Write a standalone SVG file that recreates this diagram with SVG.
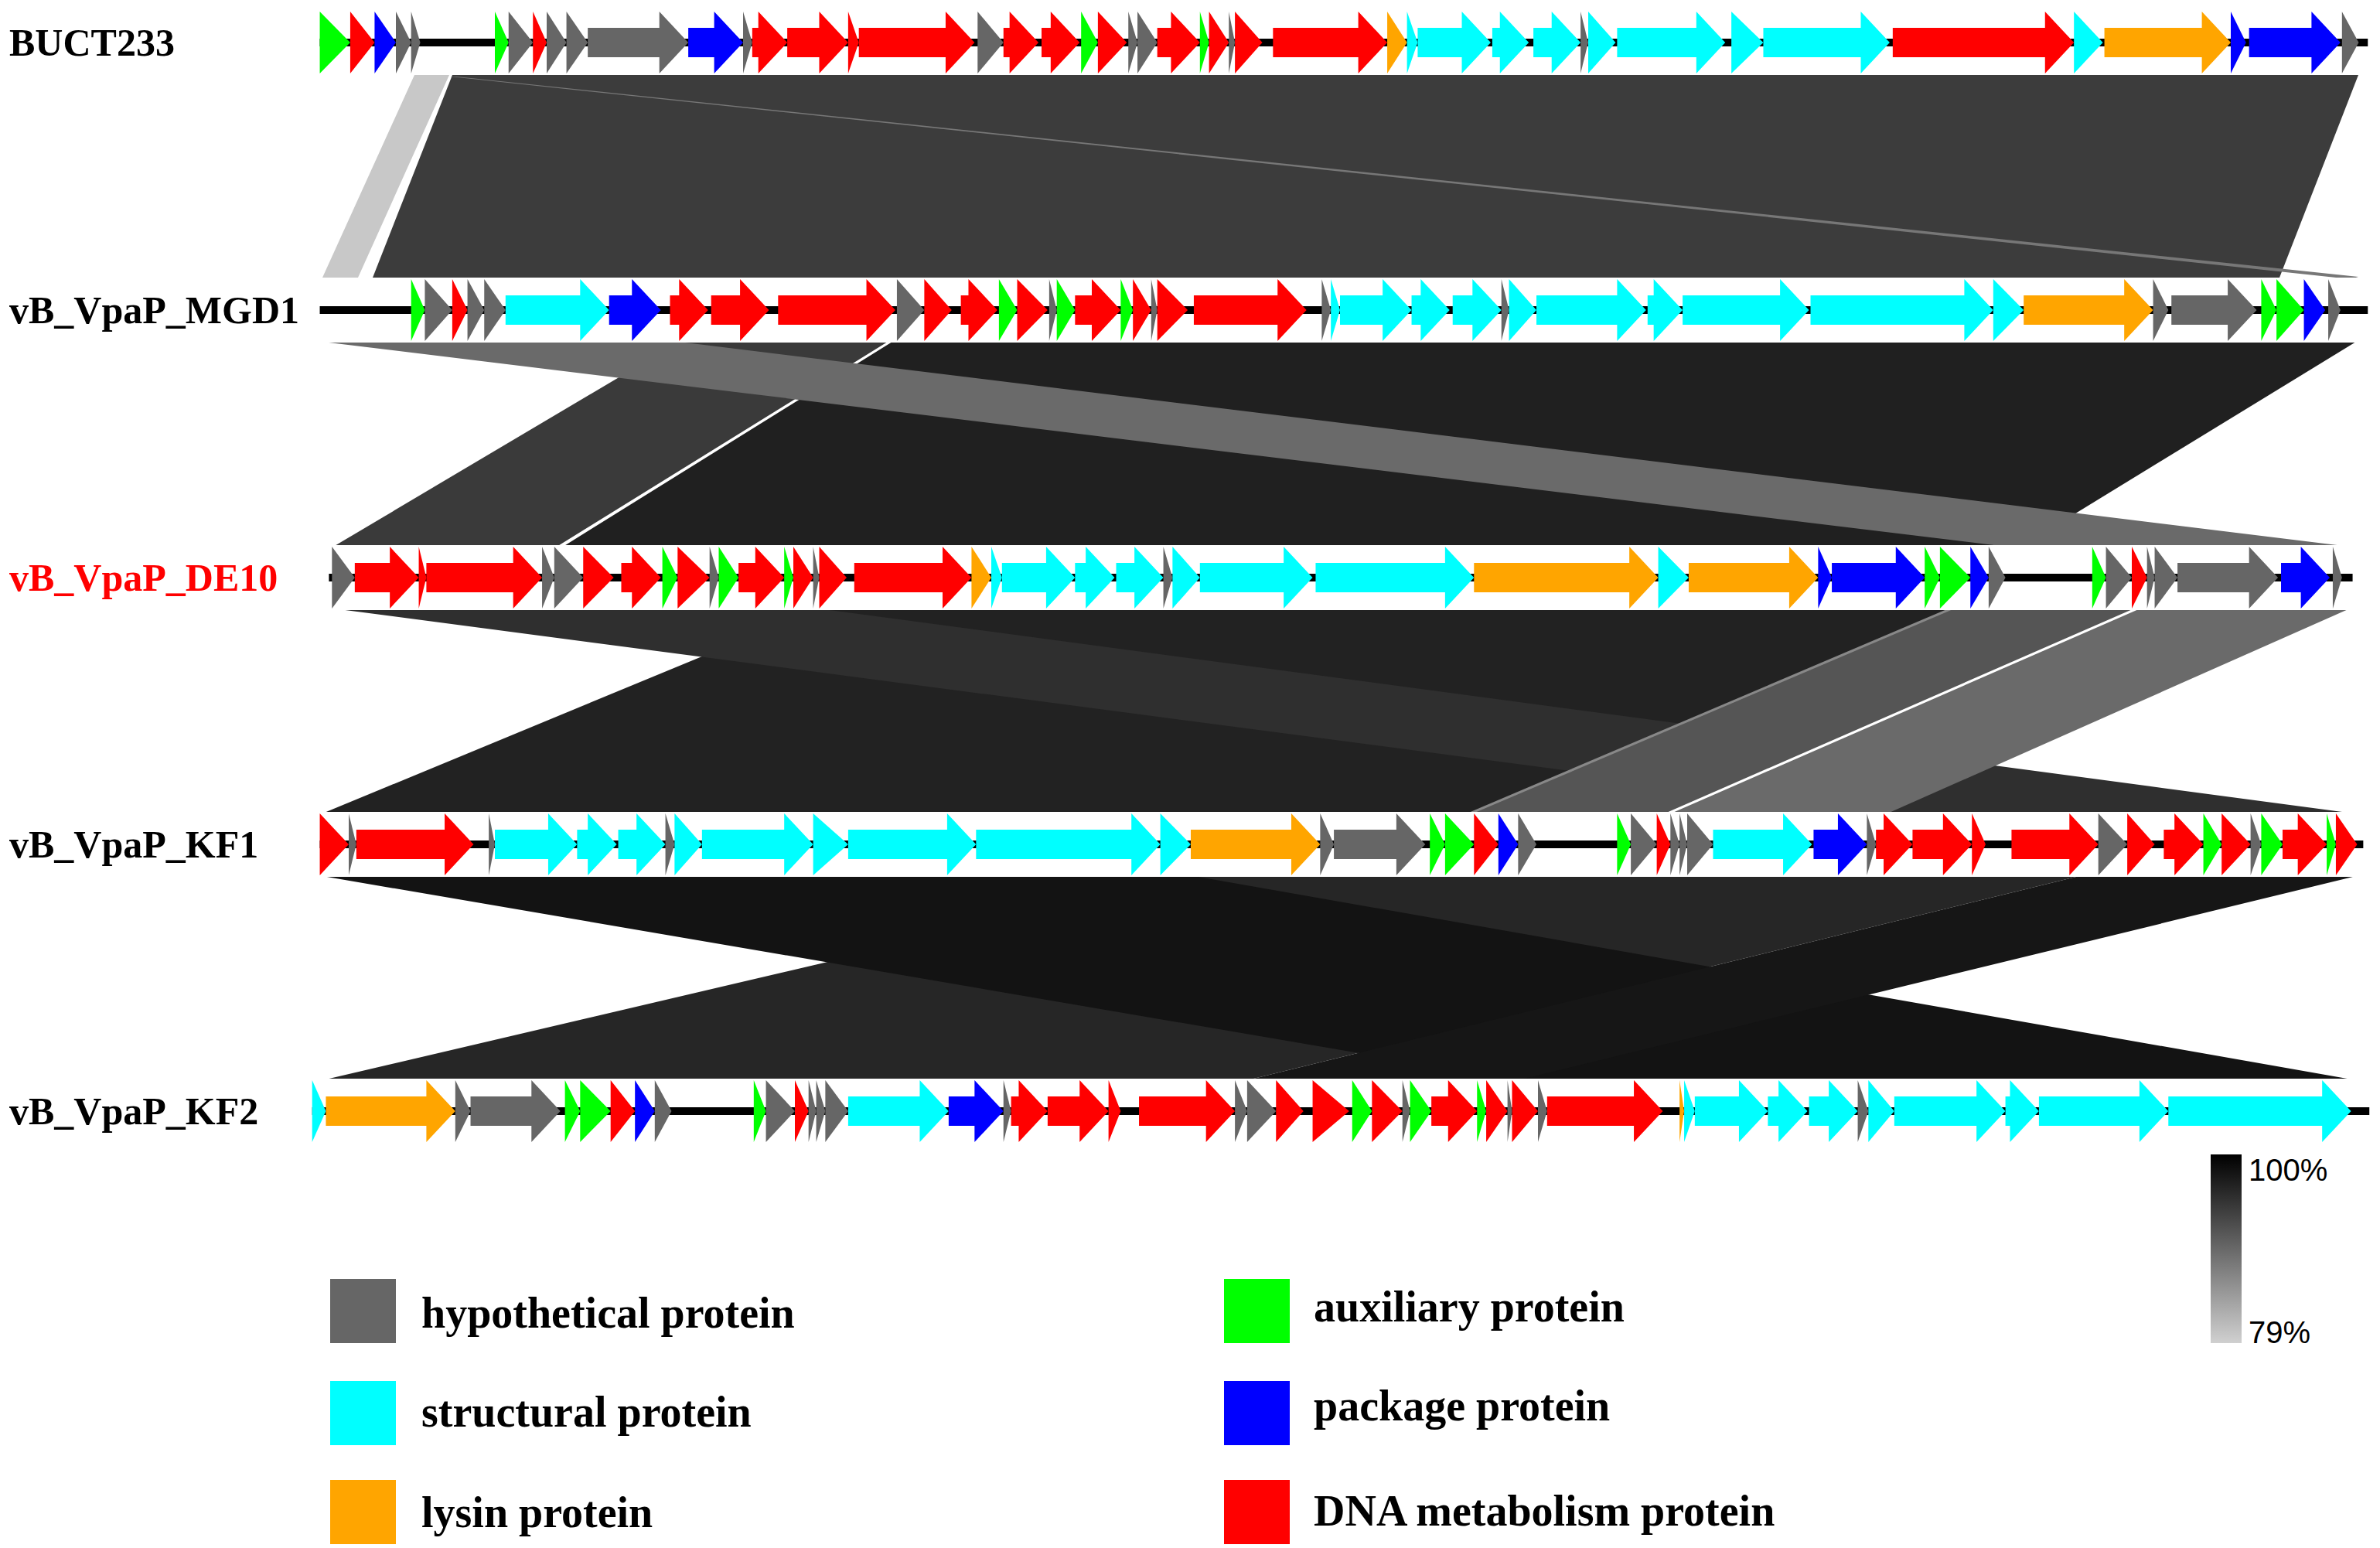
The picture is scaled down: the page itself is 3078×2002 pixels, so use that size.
<svg xmlns="http://www.w3.org/2000/svg" width="3078" height="2002" viewBox="0 0 3078 2002">
<defs>
<style>
.g{fill:#666666}.c{fill:#00ffff}.r{fill:#ff0000}.o{fill:#ffa500}.b{fill:#0000ff}.G{fill:#00ff00}
.lbl{font-family:"Liberation Serif",serif;font-weight:bold;font-size:50px;fill:#000}
.leg{font-family:"Liberation Serif",serif;font-weight:bold;font-size:56px;fill:#000}
.pct{font-family:"Liberation Sans",Arial,sans-serif;font-size:40px;fill:#000}
</style>
<linearGradient id="bar" x1="0" y1="0" x2="0" y2="1"><stop offset="0" stop-color="#000"/><stop offset="1" stop-color="#d0d0d0"/></linearGradient>
</defs>
<rect width="3078" height="2002" fill="#fff"/>
<g id="connectors">
<polygon points="536,97 581,97 463,359 417,359" fill="#c8c8c8"/>
<polygon points="585,97 3050,97 2948,359 482,359" fill="#3c3c3c"/>
<polygon points="582,99 590,99 3050,358 3040,361" fill="#777"/>
<polygon points="878,442 1152,442 725,707 431,707" fill="#3a3a3a"/>
<polygon points="1152,442 3047,442 2614,707 725,707" fill="#202020"/>
<polygon points="1148,442 1154,442 728,707 720,707" fill="#fff"/>
<polygon points="417,442 878,442 3039,707 2595,707" fill="#6a6a6a"/>
<polygon points="1058,787 2526,787 1903,1052 417,1052" fill="#222"/>
<polygon points="431,787 1058,787 3044,1052 2450,1052" fill="#2f2f2f"/>
<polygon points="2526,787 2766,787 2159,1052 1903,1052" fill="#555"/>
<polygon points="2766,787 3039,787 2441,1052 2159,1052" fill="#6a6a6a"/>
<polygon points="2760,787 2768,787 2161,1052 2153,1052" fill="#fff"/>
<polygon points="2520,787 2528,787 1905,1052 1897,1052" fill="#888"/>
<polygon points="1544,1133 2689,1133 1613,1397 417,1397" fill="#262626"/>
<polygon points="417,1133 1544,1133 3047,1397 1963,1397" fill="#131313"/>
<polygon points="2689,1133 3047,1133 1963,1397 1613,1397" fill="#161616"/>
</g>
<g id="BUCT233">
<rect x="404" y="13" width="2664" height="84" fill="#fff"/>
<text class="lbl" x="12" y="72">BUCT233</text>
<g transform="translate(0,55) scale(1.9693 1)">
<rect x="210" y="-5" width="1345" height="10" fill="#000"/>
<polygon class="G" points="210,-40 230,0 210,40"/><polygon class="r" points="230,-40 246,0 230,40"/><polygon class="b" points="246,-40 260,0 246,40"/><polygon class="g" points="260,-40 270,0 260,40"/><polygon class="g" points="270,-40 276,0 270,40"/>
<polygon class="G" points="325,-40 334,0 325,40"/><polygon class="g" points="334,-40 350,0 334,40"/><polygon class="r" points="350,-40 359,0 350,40"/><polygon class="g" points="359,-40 372,0 359,40"/><polygon class="g" points="372,-40 386,0 372,40"/>
<polygon class="g" points="386,-19 433,-19 433,-40 452,0 433,40 433,19 386,19"/>
<polygon class="b" points="452,-19 469,-19 469,-40 488,0 469,40 469,19 452,19"/>
<polygon class="g" points="488,-40 494,0 488,40"/>
<polygon class="r" points="494,-19 498,-19 498,-40 517,0 498,40 498,19 494,19"/>
<polygon class="r" points="517,-19 538,-19 538,-40 557,0 538,40 538,19 517,19"/>
<polygon class="r" points="557,-40 564,0 557,40"/>
<polygon class="r" points="564,-19 621,-19 621,-40 640,0 621,40 621,19 564,19"/>
<polygon class="g" points="642,-40 659,0 642,40"/>
<polygon class="r" points="659,-19 663,-19 663,-40 682,0 663,40 663,19 659,19"/>
<polygon class="r" points="684,-19 690,-19 690,-40 709,0 690,40 690,19 684,19"/>
<polygon class="G" points="710,-40 721,0 710,40"/><polygon class="r" points="721,-40 740,0 721,40"/><polygon class="g" points="741,-40 747,0 741,40"/><polygon class="g" points="747,-40 760,0 747,40"/>
<polygon class="r" points="760,-19 769,-19 769,-40 788,0 769,40 769,19 760,19"/>
<polygon class="G" points="788,-40 794,0 788,40"/><polygon class="r" points="794,-40 807,0 794,40"/><polygon class="g" points="807,-40 811,0 807,40"/><polygon class="r" points="811,-40 829,0 811,40"/>
<polygon class="r" points="836,-19 892,-19 892,-40 911,0 892,40 892,19 836,19"/>
<polygon class="o" points="911,-40 924,0 911,40"/><polygon class="c" points="924,-40 931,0 924,40"/>
<polygon class="c" points="931,-19 960,-19 960,-40 979,0 960,40 960,19 931,19"/>
<polygon class="c" points="980,-19 985,-19 985,-40 1004,0 985,40 985,19 980,19"/>
<polygon class="c" points="1007,-19 1019,-19 1019,-40 1038,0 1019,40 1019,19 1007,19"/>
<polygon class="g" points="1038,-40 1043,0 1038,40"/><polygon class="c" points="1043,-40 1061,0 1043,40"/>
<polygon class="c" points="1062,-19 1114,-19 1114,-40 1133,0 1114,40 1114,19 1062,19"/>
<polygon class="c" points="1137,-40 1158,0 1137,40"/>
<polygon class="c" points="1158,-19 1222,-19 1222,-40 1241,0 1222,40 1222,19 1158,19"/>
<polygon class="r" points="1243,-19 1343,-19 1343,-40 1362,0 1343,40 1343,19 1243,19"/>
<polygon class="c" points="1362,-40 1381,0 1362,40"/>
<polygon class="o" points="1382,-19 1446,-19 1446,-40 1465,0 1446,40 1446,19 1382,19"/>
<polygon class="b" points="1465,-40 1475,0 1465,40"/>
<polygon class="b" points="1477,-19 1518,-19 1518,-40 1537,0 1518,40 1518,19 1477,19"/>
<polygon class="g" points="1538,-40 1549,0 1538,40"/>
</g>
</g>
<g id="MGD1">
<rect x="404" y="359" width="2664" height="84" fill="#fff"/>
<text class="lbl" x="12" y="418">vB_VpaP_MGD1</text>
<g transform="translate(0,401) scale(1.9693 1)">
<rect x="210" y="-5" width="1345" height="10" fill="#000"/>
<polygon class="G" points="270,-40 279,0 270,40"/><polygon class="g" points="279,-40 297,0 279,40"/><polygon class="r" points="297,-40 307,0 297,40"/><polygon class="g" points="307,-40 318,0 307,40"/><polygon class="g" points="318,-40 332,0 318,40"/>
<polygon class="c" points="332,-19 381,-19 381,-40 400,0 381,40 381,19 332,19"/>
<polygon class="b" points="400,-19 415,-19 415,-40 434,0 415,40 415,19 400,19"/>
<polygon class="r" points="440,-19 446,-19 446,-40 465,0 446,40 446,19 440,19"/>
<polygon class="r" points="467,-19 486,-19 486,-40 505,0 486,40 486,19 467,19"/>
<polygon class="r" points="511,-19 569,-19 569,-40 588,0 569,40 569,19 511,19"/>
<polygon class="g" points="589,-40 607,0 589,40"/><polygon class="r" points="607,-40 625,0 607,40"/>
<polygon class="r" points="631,-19 636,-19 636,-40 655,0 636,40 636,19 631,19"/>
<polygon class="G" points="656,-40 668,0 656,40"/><polygon class="r" points="668,-40 688,0 668,40"/><polygon class="g" points="689,-40 694,0 689,40"/><polygon class="G" points="694,-40 706,0 694,40"/>
<polygon class="r" points="706,-19 717,-19 717,-40 736,0 717,40 717,19 706,19"/>
<polygon class="G" points="736,-40 744,0 736,40"/><polygon class="r" points="744,-40 756,0 744,40"/><polygon class="g" points="756,-40 760,0 756,40"/><polygon class="r" points="760,-40 780,0 760,40"/>
<polygon class="r" points="784,-19 839,-19 839,-40 858,0 839,40 839,19 784,19"/>
<polygon class="g" points="868,-40 874,0 868,40"/><polygon class="c" points="874,-40 880,0 874,40"/>
<polygon class="c" points="880,-19 908,-19 908,-40 927,0 908,40 908,19 880,19"/>
<polygon class="c" points="927,-19 933,-19 933,-40 952,0 933,40 933,19 927,19"/>
<polygon class="c" points="954,-19 967,-19 967,-40 986,0 967,40 967,19 954,19"/>
<polygon class="g" points="986,-40 991,0 986,40"/><polygon class="c" points="991,-40 1009,0 991,40"/>
<polygon class="c" points="1009,-19 1062,-19 1062,-40 1081,0 1062,40 1062,19 1009,19"/>
<polygon class="c" points="1082,-19 1086,-19 1086,-40 1105,0 1086,40 1086,19 1082,19"/>
<polygon class="c" points="1105,-19 1169,-19 1169,-40 1188,0 1169,40 1169,19 1105,19"/>
<polygon class="c" points="1189,-19 1290,-19 1290,-40 1309,0 1290,40 1290,19 1189,19"/>
<polygon class="c" points="1309,-40 1329,0 1309,40"/>
<polygon class="o" points="1329,-19 1395,-19 1395,-40 1414,0 1395,40 1395,19 1329,19"/>
<polygon class="g" points="1414,-40 1424,0 1414,40"/>
<polygon class="g" points="1426,-19 1463,-19 1463,-40 1482,0 1463,40 1463,19 1426,19"/>
<polygon class="G" points="1485,-40 1495,0 1485,40"/><polygon class="G" points="1495,-40 1513,0 1495,40"/><polygon class="b" points="1513,-40 1527,0 1513,40"/><polygon class="g" points="1529,-40 1537,0 1529,40"/>
</g>
</g>
<g id="DE10">
<rect x="404" y="705" width="2664" height="84" fill="#fff"/>
<text class="lbl" x="12" y="764" fill="#ff0000" style="fill:#ff0000">vB_VpaP_DE10</text>
<g transform="translate(0,747) scale(1.9693 1)">
<rect x="216" y="-5" width="1329" height="10" fill="#000"/>
<polygon class="g" points="218,-40 233,0 218,40"/>
<polygon class="r" points="233,-19 256,-19 256,-40 275,0 256,40 256,19 233,19"/>
<polygon class="r" points="275,-40 280,0 275,40"/>
<polygon class="r" points="280,-19 337,-19 337,-40 356,0 337,40 337,19 280,19"/>
<polygon class="g" points="356,-40 364,0 356,40"/><polygon class="g" points="364,-40 383,0 364,40"/><polygon class="r" points="383,-40 403,0 383,40"/>
<polygon class="r" points="408,-19 415,-19 415,-40 434,0 415,40 415,19 408,19"/>
<polygon class="G" points="435,-40 445,0 435,40"/><polygon class="r" points="445,-40 466,0 445,40"/><polygon class="g" points="466,-40 472,0 466,40"/><polygon class="G" points="472,-40 485,0 472,40"/>
<polygon class="r" points="485,-19 496,-19 496,-40 515,0 496,40 496,19 485,19"/>
<polygon class="G" points="515,-40 521,0 515,40"/><polygon class="r" points="521,-40 534,0 521,40"/><polygon class="g" points="534,-40 538,0 534,40"/><polygon class="r" points="538,-40 556,0 538,40"/>
<polygon class="r" points="561,-19 619,-19 619,-40 638,0 619,40 619,19 561,19"/>
<polygon class="o" points="638,-40 651,0 638,40"/><polygon class="c" points="651,-40 658,0 651,40"/>
<polygon class="c" points="658,-19 687,-19 687,-40 706,0 687,40 687,19 658,19"/>
<polygon class="c" points="706,-19 713,-19 713,-40 732,0 713,40 713,19 706,19"/>
<polygon class="c" points="733,-19 745,-19 745,-40 764,0 745,40 745,19 733,19"/>
<polygon class="g" points="764,-40 770,0 764,40"/><polygon class="c" points="770,-40 788,0 770,40"/>
<polygon class="c" points="788,-19 843,-19 843,-40 862,0 843,40 843,19 788,19"/>
<polygon class="c" points="864,-19 949,-19 949,-40 968,0 949,40 949,19 864,19"/>
<polygon class="o" points="968,-19 1070,-19 1070,-40 1089,0 1070,40 1070,19 968,19"/>
<polygon class="c" points="1089,-40 1109,0 1089,40"/>
<polygon class="o" points="1109,-19 1175,-19 1175,-40 1194,0 1175,40 1175,19 1109,19"/>
<polygon class="b" points="1194,-40 1203,0 1194,40"/>
<polygon class="b" points="1203,-19 1245,-19 1245,-40 1264,0 1245,40 1245,19 1203,19"/>
<polygon class="G" points="1264,-40 1274,0 1264,40"/><polygon class="G" points="1274,-40 1294,0 1274,40"/><polygon class="b" points="1294,-40 1306,0 1294,40"/><polygon class="g" points="1306,-40 1317,0 1306,40"/>
<polygon class="G" points="1374,-40 1383,0 1374,40"/><polygon class="g" points="1383,-40 1400,0 1383,40"/><polygon class="r" points="1400,-40 1410,0 1400,40"/><polygon class="g" points="1410,-40 1415,0 1410,40"/><polygon class="g" points="1415,-40 1430,0 1415,40"/>
<polygon class="g" points="1430,-19 1477,-19 1477,-40 1496,0 1477,40 1477,19 1430,19"/>
<polygon class="b" points="1498,-19 1511,-19 1511,-40 1530,0 1511,40 1511,19 1498,19"/>
<polygon class="g" points="1532,-40 1538,0 1532,40"/>
</g>
</g>
<g id="KF1">
<rect x="404" y="1050" width="2664" height="84" fill="#fff"/>
<text class="lbl" x="12" y="1109">vB_VpaP_KF1</text>
<g transform="translate(0,1092) scale(1.9693 1)">
<rect x="210" y="-5" width="1342" height="10" fill="#000"/>
<polygon class="r" points="210,-40 229,0 210,40"/><polygon class="g" points="229,-40 234,0 229,40"/>
<polygon class="r" points="234,-19 292,-19 292,-40 311,0 292,40 292,19 234,19"/>
<polygon class="g" points="321,-40 325,0 321,40"/>
<polygon class="c" points="325,-19 360,-19 360,-40 379,0 360,40 360,19 325,19"/>
<polygon class="c" points="379,-19 386,-19 386,-40 405,0 386,40 386,19 379,19"/>
<polygon class="c" points="406,-19 418,-19 418,-40 437,0 418,40 418,19 406,19"/>
<polygon class="g" points="437,-40 443,0 437,40"/><polygon class="c" points="443,-40 461,0 443,40"/>
<polygon class="c" points="461,-19 515,-19 515,-40 534,0 515,40 515,19 461,19"/>
<polygon class="c" points="534,-40 557,0 534,40"/>
<polygon class="c" points="557,-19 622,-19 622,-40 641,0 622,40 622,19 557,19"/>
<polygon class="c" points="641,-19 743,-19 743,-40 762,0 743,40 743,19 641,19"/>
<polygon class="c" points="762,-40 782,0 762,40"/>
<polygon class="o" points="782,-19 848,-19 848,-40 867,0 848,40 848,19 782,19"/>
<polygon class="g" points="867,-40 876,0 867,40"/>
<polygon class="g" points="876,-19 917,-19 917,-40 936,0 917,40 917,19 876,19"/>
<polygon class="G" points="939,-40 949,0 939,40"/><polygon class="G" points="949,-40 968,0 949,40"/><polygon class="r" points="968,-40 984,0 968,40"/><polygon class="b" points="984,-40 997,0 984,40"/><polygon class="g" points="997,-40 1009,0 997,40"/>
<polygon class="G" points="1062,-40 1071,0 1062,40"/><polygon class="g" points="1071,-40 1088,0 1071,40"/><polygon class="r" points="1088,-40 1097,0 1088,40"/><polygon class="g" points="1097,-40 1103,0 1097,40"/><polygon class="g" points="1103,-40 1108,0 1103,40"/><polygon class="g" points="1108,-40 1125,0 1108,40"/>
<polygon class="c" points="1125,-19 1171,-19 1171,-40 1190,0 1171,40 1171,19 1125,19"/>
<polygon class="b" points="1191,-19 1207,-19 1207,-40 1226,0 1207,40 1207,19 1191,19"/>
<polygon class="g" points="1226,-40 1232,0 1226,40"/>
<polygon class="r" points="1232,-19 1237,-19 1237,-40 1256,0 1237,40 1237,19 1232,19"/>
<polygon class="r" points="1256,-19 1276,-19 1276,-40 1295,0 1276,40 1276,19 1256,19"/>
<polygon class="r" points="1295,-40 1304,0 1295,40"/>
<polygon class="r" points="1321,-19 1359,-19 1359,-40 1378,0 1359,40 1359,19 1321,19"/>
<polygon class="g" points="1378,-40 1397,0 1378,40"/><polygon class="r" points="1397,-40 1415,0 1397,40"/>
<polygon class="r" points="1421,-19 1428,-19 1428,-40 1447,0 1428,40 1428,19 1421,19"/>
<polygon class="G" points="1447,-40 1459,0 1447,40"/><polygon class="r" points="1459,-40 1478,0 1459,40"/><polygon class="g" points="1478,-40 1485,0 1478,40"/><polygon class="G" points="1485,-40 1499,0 1485,40"/>
<polygon class="r" points="1499,-19 1509,-19 1509,-40 1528,0 1509,40 1509,19 1499,19"/>
<polygon class="G" points="1528,-40 1534,0 1528,40"/><polygon class="r" points="1534,-40 1548,0 1534,40"/>
</g>
</g>
<g id="KF2">
<rect x="404" y="1395" width="2664" height="84" fill="#fff"/>
<text class="lbl" x="12" y="1454">vB_VpaP_KF2</text>
<g transform="translate(0,1437) scale(1.9693 1)">
<rect x="205" y="-5" width="1351" height="10" fill="#000"/>
<polygon class="c" points="205,-40 214,0 205,40"/>
<polygon class="o" points="214,-19 280,-19 280,-40 299,0 280,40 280,19 214,19"/>
<polygon class="g" points="299,-40 309,0 299,40"/>
<polygon class="g" points="309,-19 349,-19 349,-40 368,0 349,40 349,19 309,19"/>
<polygon class="G" points="371,-40 381,0 371,40"/><polygon class="G" points="381,-40 401,0 381,40"/><polygon class="r" points="401,-40 417,0 401,40"/><polygon class="b" points="417,-40 430,0 417,40"/><polygon class="g" points="430,-40 441,0 430,40"/>
<polygon class="G" points="495,-40 503,0 495,40"/><polygon class="g" points="503,-40 522,0 503,40"/><polygon class="r" points="522,-40 531,0 522,40"/><polygon class="g" points="531,-40 536,0 531,40"/><polygon class="g" points="536,-40 542,0 536,40"/><polygon class="g" points="542,-40 557,0 542,40"/>
<polygon class="c" points="557,-19 604,-19 604,-40 623,0 604,40 604,19 557,19"/>
<polygon class="b" points="623,-19 640,-19 640,-40 659,0 640,40 640,19 623,19"/>
<polygon class="g" points="659,-40 664,0 659,40"/>
<polygon class="r" points="664,-19 669,-19 669,-40 688,0 669,40 669,19 664,19"/>
<polygon class="r" points="688,-19 709,-19 709,-40 728,0 709,40 709,19 688,19"/>
<polygon class="r" points="728,-40 736,0 728,40"/>
<polygon class="r" points="748,-19 792,-19 792,-40 811,0 792,40 792,19 748,19"/>
<polygon class="g" points="811,-40 819,0 811,40"/><polygon class="g" points="819,-40 838,0 819,40"/><polygon class="r" points="838,-40 856,0 838,40"/><polygon class="r" points="862,-40 886,0 862,40"/>
<polygon class="G" points="888,-40 901,0 888,40"/><polygon class="r" points="901,-40 921,0 901,40"/><polygon class="g" points="921,-40 926,0 921,40"/><polygon class="G" points="926,-40 940,0 926,40"/>
<polygon class="r" points="940,-19 951,-19 951,-40 970,0 951,40 951,19 940,19"/>
<polygon class="G" points="970,-40 976,0 970,40"/><polygon class="r" points="976,-40 990,0 976,40"/><polygon class="g" points="990,-40 993,0 990,40"/><polygon class="r" points="993,-40 1010,0 993,40"/><polygon class="g" points="1010,-40 1016,0 1010,40"/>
<polygon class="r" points="1016,-19 1073,-19 1073,-40 1092,0 1073,40 1073,19 1016,19"/>
<polygon class="o" points="1103,-40 1106,0 1103,40"/><polygon class="c" points="1106,-40 1113,0 1106,40"/>
<polygon class="c" points="1113,-19 1142,-19 1142,-40 1161,0 1142,40 1142,19 1113,19"/>
<polygon class="c" points="1161,-19 1168,-19 1168,-40 1187,0 1168,40 1168,19 1161,19"/>
<polygon class="c" points="1188,-19 1201,-19 1201,-40 1220,0 1201,40 1201,19 1188,19"/>
<polygon class="g" points="1220,-40 1227,0 1220,40"/><polygon class="c" points="1227,-40 1244,0 1227,40"/>
<polygon class="c" points="1244,-19 1298,-19 1298,-40 1317,0 1298,40 1298,19 1244,19"/>
<polygon class="c" points="1317,-19 1320,-19 1320,-40 1339,0 1320,40 1320,19 1317,19"/>
<polygon class="c" points="1339,-19 1405,-19 1405,-40 1424,0 1405,40 1405,19 1339,19"/>
<polygon class="c" points="1424,-19 1525,-19 1525,-40 1544,0 1525,40 1525,19 1424,19"/>
</g>
</g>
<g id="scale">
<rect x="2859" y="1493" width="40" height="244" fill="url(#bar)"/>
<text class="pct" x="2908" y="1527">100%</text>
<text class="pct" x="2908" y="1737">79%</text>
</g>
<g id="legend">
<rect x="427" y="1654" width="85" height="83" class="g"/><text class="leg" x="545" y="1717">hypothetical protein</text>
<rect x="427" y="1786" width="85" height="83" class="c"/><text class="leg" x="545" y="1845">structural protein</text>
<rect x="427" y="1914" width="85" height="83" class="o"/><text class="leg" x="545" y="1975">lysin protein</text>
<rect x="1583" y="1654" width="85" height="83" class="G"/><text class="leg" x="1699" y="1709">auxiliary protein</text>
<rect x="1583" y="1786" width="85" height="83" class="b"/><text class="leg" x="1699" y="1837">package protein</text>
<rect x="1583" y="1914" width="85" height="83" class="r"/><text class="leg" x="1699" y="1973">DNA metabolism protein</text>
</g>
</svg>
